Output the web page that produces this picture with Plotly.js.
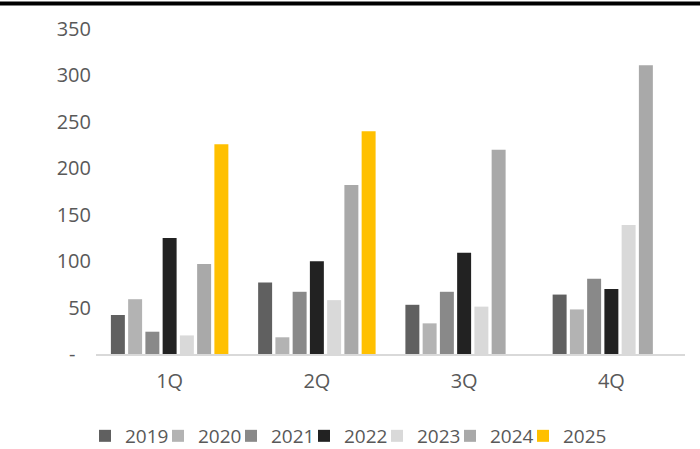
<!DOCTYPE html>
<html>
<head>
<meta charset="utf-8">
<script src="https://cdn.plot.ly/plotly-3.0.1.min.js"></script>
<style>html,body{margin:0;padding:0;background:#fff;}#chart{width:700px;height:449px;}</style>
</head>
<body>
<div id="chart"></div>
<script>
const quarters = ['1Q', '2Q', '3Q', '4Q'];
const years = ['2019', '2020', '2021', '2022', '2023', '2024', '2025'];
const v2019 = [42, 77, 53, 64];
const v2020 = [59, 18, 33, 48];
const v2021 = [24, 67, 67, 81];
const v2022 = [125, 100, 109, 70];
const v2023 = [20, 58, 51, 139];
const v2024 = [97, 182, 220, 311];
const v2025 = [226, 240, null, null];
const yTickVals = [0, 50, 100, 150, 200, 250, 300, 350];
const yTickText = ['-\u00a0\u00a0\u00a0', '50', '100', '150', '200', '250', '300', '350'];

const series = [v2019, v2020, v2021, v2022, v2023, v2024, v2025];
const colors = ['#606060', '#b3b3b3', '#898989', '#222222', '#d9d9d9', '#a9a9a9', '#ffc000'];

const font = {family: 'Open Sans, sans-serif', size: 20, color: '#595959'};
const legendFont = {family: 'Open Sans, sans-serif', size: 19, color: '#595959'};

const traces = series.map((vals, i) => ({
  type: 'bar',
  name: years[i],
  x: quarters,
  y: vals,
  marker: {color: colors[i]},
  hoverinfo: 'skip'
}));
// invisible spacer legend entry on hidden overlay axes, so the last label is not clipped
traces.push({
  type: 'bar',
  name: '\u00a0',
  x: [quarters[0]],
  y: [0],
  xaxis: 'x2',
  yaxis: 'y2',
  marker: {color: 'rgba(0,0,0,0)'},
  showlegend: true,
  hoverinfo: 'skip'
});

const layout = {
  width: 700,
  height: 449,
  margin: {l: 96, r: 15, t: 28.5, b: 95},
  paper_bgcolor: '#ffffff',
  plot_bgcolor: '#ffffff',
  barmode: 'group',
  bargap: 0.18,
  bargroupgap: 0.19,
  font: font,
  showlegend: true,
  legend: {
    orientation: 'h',
    xref: 'container',
    yref: 'container',
    x: 0.1214,
    xanchor: 'left',
    y: 0.029,
    yanchor: 'middle',
    font: legendFont,
    entrywidth: 28,
    traceorder: 'normal'
  },
  xaxis: {
    showline: true,
    linecolor: '#d9d9d9',
    linewidth: 2,
    showgrid: false,
    zeroline: false,
    ticks: '',
    ticklabelstandoff: 8,
    tickfont: font
  },
  yaxis: {
    range: [0, 350],
    tickvals: yTickVals,
    ticktext: yTickText,
    showgrid: false,
    zeroline: false,
    showline: false,
    ticks: '',
    ticklabelstandoff: 4,
    tickfont: font
  },
  xaxis2: {overlaying: 'x', visible: false},
  yaxis2: {overlaying: 'y', visible: false, range: [0, 350]},
  shapes: [{
    type: 'rect',
    xref: 'paper', yref: 'paper',
    x0: -0.2, x1: 1.1,
    y0: 1.0722, y1: 1.0845,
    fillcolor: '#000000',
    line: {width: 0}
  }]
};

Plotly.newPlot('chart', traces, layout, {displayModeBar: false, staticPlot: true});
</script>
</body>
</html>
